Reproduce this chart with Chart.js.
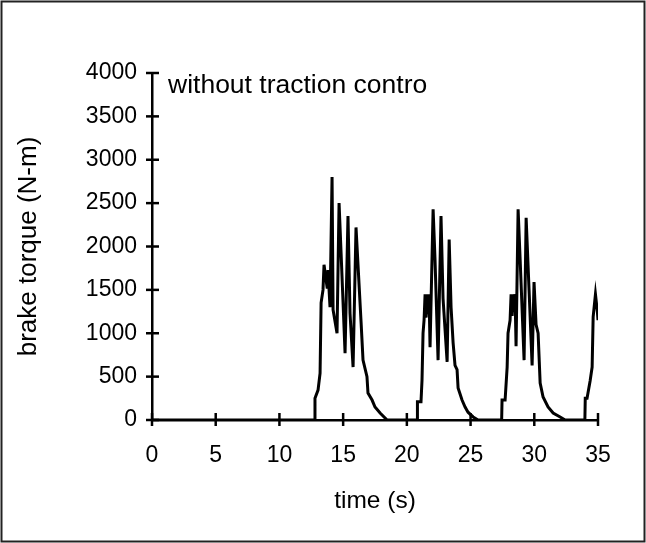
<!DOCTYPE html>
<html>
<head>
<meta charset="utf-8">
<script src="https://cdn.jsdelivr.net/npm/chart.js@4.4.1/dist/chart.umd.min.js"></script>
<style>
  html, body { margin: 0; padding: 0; background: #fff; }
  #wrap { width: 646px; height: 543px; }
</style>
</head>
<body>
<div id="wrap"><canvas id="torqueChart" width="646" height="543"></canvas></div>
<script>
// brake torque trace (time in s, torque in N-m)
const times = [
  0, 12.75, 12.79, 13.03, 13.19, 13.27, 13.42, 13.50, 13.74, 13.81, 13.97, 14.13, 14.21,
  14.52, 14.68, 14.84, 15.15, 15.38, 15.54, 15.78, 16.01, 16.41, 16.56, 16.87, 16.95,
  17.27, 17.50, 17.90, 18.45,
  20.80, 20.83, 21.11, 21.19, 21.27, 21.35, 21.43, 21.51, 21.59, 21.66, 21.74, 21.82, 22.06,
  22.21, 22.45, 22.68, 22.84, 23.16, 23.32, 23.47, 23.63, 23.78, 23.94, 24.02, 24.33,
  24.57, 24.80, 25.20, 25.59,
  27.44, 27.47, 27.71, 27.87, 27.94, 28.10, 28.18, 28.26, 28.34, 28.41, 28.49, 28.57, 28.73,
  28.89, 29.20, 29.36, 29.59, 29.83, 29.98, 30.14, 30.30, 30.46, 30.69, 31.08, 31.48,
  32.03, 32.42,
  33.97, 34.00, 34.14, 34.38, 34.54, 34.62, 34.80, 34.95, 35.00
];
const torque = [
  0, 0, 250, 345, 540, 1350, 1500, 1790, 1530, 1730, 1300, 2800, 1270,
  1000, 2500, 1920, 770, 2350, 1230, 610, 2220, 1120, 690, 500, 310,
  230, 150, 80, 0,
  0, 210, 210, 460, 1000, 1150, 1450, 1180, 1450, 1220, 1450, 840, 2430,
  1850, 690, 2350, 1400, 670, 2080, 1300, 890, 630, 580, 370, 230,
  150, 90, 35, 0,
  0, 230, 230, 610, 1000, 1150, 1450, 1200, 1450, 1250, 1450, 850, 2430,
  1850, 690, 2330, 1500, 630, 1590, 1100, 1000, 425, 265, 150, 80,
  35, 0,
  0, 250, 250, 450, 610, 1190, 1450, 1250, 1150
];
const xTicks = [0, 5, 10, 15, 20, 25, 30, 35];
const yTicks = [0, 500, 1000, 1500, 2000, 2500, 3000, 3500, 4000];
const note = "without traction contro";

const FONT = '"Liberation Sans", Arial, sans-serif';

// tick marks that cross the axis line, plus the note and the frame
const extras = {
  id: 'extras',
  afterDraw(chart) {
    const ctx = chart.ctx;
    const a = chart.chartArea;
    const xs = chart.scales.x, ys = chart.scales.y;
    ctx.save();
    ctx.strokeStyle = '#000';
    ctx.lineWidth = 2.5;
    xTicks.forEach(v => {
      const px = xs.getPixelForValue(v);
      ctx.beginPath(); ctx.moveTo(px, a.bottom - 7); ctx.lineTo(px, a.bottom + 6); ctx.stroke();
    });
    yTicks.forEach(v => {
      const py = ys.getPixelForValue(v);
      ctx.beginPath(); ctx.moveTo(a.left - 6, py); ctx.lineTo(a.left + 7, py); ctx.stroke();
    });
    ctx.fillStyle = '#000';
    ctx.font = '26.5px ' + FONT;
    ctx.textBaseline = 'middle';
    ctx.fillText(note, 168, 86);
    ctx.lineWidth = 2;
    ctx.strokeStyle = '#222';
    ctx.strokeRect(1.5, 1.5, chart.width - 3, chart.height - 3);
    ctx.restore();
  }
};

new Chart(document.getElementById('torqueChart'), {
  type: 'line',
  data: {
    datasets: [{
      data: times.map((t, i) => ({x: t, y: torque[i]})),
      borderColor: '#000',
      borderWidth: 3,
      pointRadius: 0,
      tension: 0,
      fill: false
    }]
  },
  options: {
    responsive: false,
    animation: false,
    devicePixelRatio: 1,
    layout: {padding: {left: 0, right: 48, top: 73, bottom: 10}},
    plugins: {legend: {display: false}, tooltip: {enabled: false}},
    scales: {
      x: {
        type: 'linear', min: 0, max: 35,
        afterFit(s) { s.height = 113; },
        afterBuildTicks(s) { s.ticks = xTicks.map(v => ({value: v})); },
        ticks: {color: '#000', font: {family: FONT, size: 23}, padding: 22, maxRotation: 0,
                callback: v => String(v)},
        grid: {drawOnChartArea: false, drawTicks: false},
        border: {color: '#000', width: 2.5},
        title: {display: true, text: 'time (s)', color: '#000',
                font: {family: FONT, size: 24.5}, padding: {top: 0, bottom: 17}}
      },
      y: {
        min: 0, max: 4000,
        afterFit(s) { s.width = 152; },
        afterBuildTicks(s) { s.ticks = yTicks.map(v => ({value: v})); },
        ticks: {color: '#000', font: {family: FONT, size: 23}, padding: 15,
                callback: v => String(v)},
        grid: {drawOnChartArea: false, drawTicks: false},
        border: {color: '#000', width: 2.5},
        title: {display: true, text: 'brake torque (N-m)', color: '#000',
                font: {family: FONT, size: 26}, padding: {top: 13, bottom: 0}}
      }
    }
  },
  plugins: [extras]
});
</script>
</body>
</html>
